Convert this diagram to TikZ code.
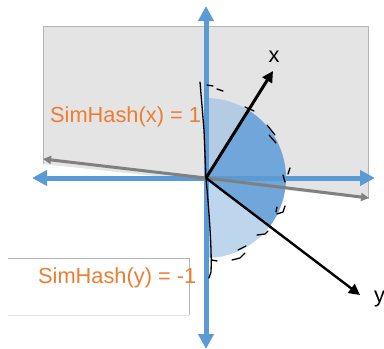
\documentclass[tikz,border=0pt]{standalone}
\usepackage{fontspec}
\setmainfont{Liberation Sans}
\usetikzlibrary{arrows.meta}
\definecolor{axisblue}{HTML}{5B9BD5}
\definecolor{labelorange}{HTML}{ED7D31}
\definecolor{planegrey}{HTML}{E4E4E4}
\definecolor{planeedge}{HTML}{B5B5B5}
\definecolor{sectop}{HTML}{B3CBE3}
\definecolor{secmid}{HTML}{70A6DA}
\definecolor{secbot}{HTML}{BDD6EE}
\tikzset{
  axisline/.style={draw=axisblue,line width=5pt,-{Triangle[width=15pt,length=15pt]}},
  planeline/.style={draw=black!50,line width=3pt,-{Triangle[width=8pt,length=8pt]}},
  vecline/.style={draw=black,-{Triangle[width=11pt,length=11pt]}},
  sketch/.style={draw=black,line width=1.3pt,line cap=round},
  sim/.style={text=labelorange,font=\fontsize{21.8}{24}\selectfont,anchor=base west,inner sep=0pt},
  veclabel/.style={text=black,font=\fontsize{21.8}{24}\selectfont,anchor=base,inner sep=0pt}
}
\begin{document}
\begin{tikzpicture}[x=1pt,y=-1pt]
\useasboundingbox (0,0) rectangle (384,349);
\coordinate (o) at (206,178);
\coordinate (axT) at (206,6);
\coordinate (axB) at (206,349);
\coordinate (axL) at (32,178);
\coordinate (axR) at (375,178);
\coordinate (pL) at (43,159);
\coordinate (pR) at (369,198);
\coordinate (tipx) at (273,71);
\coordinate (tipy) at (360,295);
% grey plane
\fill[planegrey] (43,26) -- (368,26) -- (368,199) -- (43,164) -- cycle;
\draw[planeedge,line width=0.9pt] (43,164) -- (43,26) -- (368,26) -- (368,199);
% lower white box
\draw[planeedge,line width=0.7pt] (8,258) -- (189,258) -- (189,315);
\draw[black!10,line width=0.7pt] (8,315) -- (189,315);
% sectors
\fill[sectop] (o) -- +(-90:80) arc[start angle=-90,end angle=-58,radius=80] -- cycle;
\fill[secmid] (o) -- +(-58:80) arc[start angle=-58,end angle=38,radius=80] -- cycle;
\fill[secbot] (o) -- +(38:80) arc[start angle=38,end angle=90,radius=80] -- cycle;
% axes
\draw[axisline] (o) -- (axT);
\draw[axisline] (o) -- (axB);
\draw[axisline] (o) -- (axL);
\draw[axisline] (o) -- (axR);
\draw[planeline] (o) -- (pL);
\draw[planeline] (o) -- (pR);
% labels
\node[sim] (hx) at (50,122) {SimHash(x) = 1};
\node[sim] (hy) at (38,283) {SimHash(y) = -1};
\node[veclabel] (lx) at (274,62) {x};
\node[veclabel,anchor=base west] (ly) at (374,302) {y};
% vectors
\draw[vecline,line width=3pt] (o) -- (tipx);
\draw[vecline,line width=2.4pt] (o) -- (tipy);
% hand-drawn outline
\draw[sketch] (200,82) -- (204,130) -- (206,178) .. controls (209,210) and (212,250) .. (211,272) -- (209,278);
\draw[sketch] (207,85) -- (213,86);
\draw[sketch] (217,89) -- (223,91);
\draw[sketch] (245,107) -- (254,111);
\draw[sketch] (267,125) -- (275,135);
\draw[sketch] (269,135) -- (276,143);
\draw[sketch] (290,168) -- (288,174);
\draw[sketch] (283,175) -- (285,182);
\draw[sketch] (276,212) -- (277,207);
\draw[sketch] (277,214) -- (283,212) -- (285,206);
\draw[sketch] (257,235) -- (265,234) -- (268,231);
\draw[sketch] (238,250) -- (246,246);
\draw[sketch] (232,260) -- (240,258) -- (245,253);
\draw[sketch] (212,260) -- (217,261);
\end{tikzpicture}
\end{document}
